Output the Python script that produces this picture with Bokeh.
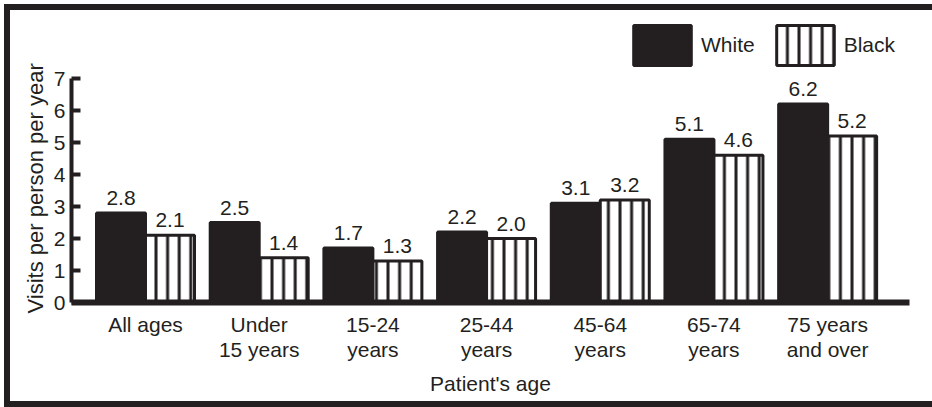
from bokeh.plotting import figure
from bokeh.models import ColumnDataSource, FixedTicker, Legend, LegendItem, Title
from bokeh.core.properties import value
from bokeh.embed import file_html
from bokeh.resources import INLINE

categories = ["All ages", "Under\n15 years", "15-24\nyears", "25-44\nyears",
              "45-64\nyears", "65-74\nyears", "75 years\nand over"]
white = [2.8, 2.5, 1.7, 2.2, 3.1, 5.1, 6.2]
black = [2.1, 1.4, 1.3, 2.0, 3.2, 4.6, 5.2]
y_ticks = [0, 1, 2, 3, 4, 5, 6, 7]
series_names = ["White", "Black"]
y_title = "Visits per person per year"
x_title = "Patient's age"

INK = "#231f20"
FONT = "Liberation Sans"
FS = "21px"

idx = list(range(len(categories)))
bw = 0.431
src_w = ColumnDataSource(dict(x=[i - bw / 2 for i in idx], top=white,
                              lab=["%.1f" % v for v in white]))
src_b = ColumnDataSource(dict(x=[i + bw / 2 for i in idx], top=black,
                              lab=["%.1f" % v for v in black]))

p = figure(width=928, height=403, x_range=(-0.651, 6.72), y_range=(0, 8.75),
           output_backend="svg", toolbar_location=None,
           min_border_left=61, min_border_right=29, min_border_top=12, min_border_bottom=111)
p.styles = {"border-left": "6px solid " + INK, "border-top": "6px solid " + INK,
            "border-bottom": "6px solid " + INK,
            "margin-left": "4px", "margin-top": "4px"}
p.outline_line_color = None
p.xgrid.visible = False
p.ygrid.visible = False
p.background_fill_color = "white"
p.border_fill_color = "white"

rw = p.vbar(x="x", top="top", width=bw, source=src_w, fill_color=INK,
            line_color=INK, line_width=3)
rb = p.vbar(x="x", top="top", width=bw, source=src_b, fill_color="white",
            line_color=INK, line_width=3, hatch_pattern="|", hatch_color=INK,
            hatch_weight=3, hatch_scale=11.6)

for s in (src_w, src_b):
    p.text(x="x", y="top", text="lab", source=s, text_align="center",
           text_baseline="bottom", y_offset=-8, text_font=value(FONT),
           text_font_size=value(FS), text_color=INK)

# y axis
ya = p.yaxis[0]
ya.ticker = FixedTicker(ticks=y_ticks)
ya.bounds = (0, 7)
ya.minor_tick_line_color = None
ya.major_tick_in = 9
ya.major_tick_out = 0
ya.major_tick_line_width = 4
ya.major_tick_line_color = INK
ya.axis_line_width = 4
ya.axis_line_color = INK
ya.major_label_standoff = 6
ya.major_label_text_font = FONT
ya.major_label_text_font_size = FS
ya.major_label_text_color = INK

ytitle = Title(text=y_title, align="left", offset=-11, standoff=6,
               text_font=FONT, text_font_size="22px", text_font_style="normal",
               text_color=INK)
p.add_layout(ytitle, "left")

# x axis
xa = p.xaxis[0]
xa.ticker = FixedTicker(ticks=idx)
xa.major_label_overrides = {i: c for i, c in zip(idx, categories)}
xa.minor_tick_line_color = None
xa.major_tick_line_color = None
xa.major_tick_in = 0
xa.major_tick_out = 0
xa.axis_line_width = 6
xa.axis_line_color = INK
xa.major_label_standoff = 10
xa.major_label_text_font = FONT
xa.major_label_text_font_size = FS
xa.major_label_text_color = INK
xa.major_label_text_line_height = 1.1
xa.axis_label = x_title
xa.axis_label_text_font = FONT
xa.axis_label_text_font_size = FS
xa.axis_label_text_font_style = "normal"
xa.axis_label_text_color = INK
xa.axis_label_standoff = 8

legend = Legend(items=[LegendItem(label=series_names[0], renderers=[rw]),
                       LegendItem(label=series_names[1], renderers=[rb])],
                location=(555, 232), orientation="horizontal",
                glyph_width=72, glyph_height=50, label_standoff=3, spacing=14,
                padding=0, margin=0, border_line_color=None,
                background_fill_alpha=0, label_text_font=FONT,
                label_text_font_size=FS, label_text_color=INK,
                label_text_baseline="bottom", label_height=44)
p.add_layout(legend, "center")

open("out.html", "w").write(file_html(p, INLINE))
